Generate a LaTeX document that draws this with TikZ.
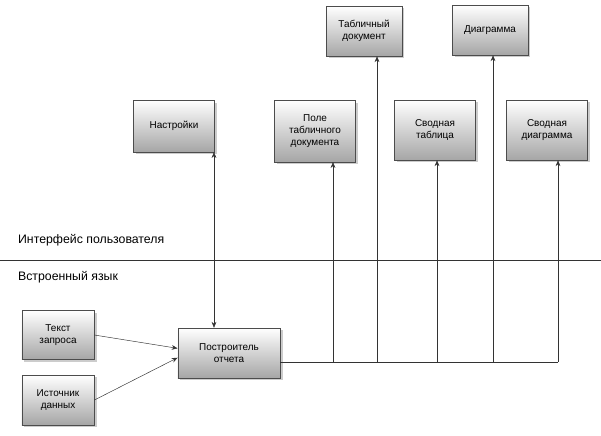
\documentclass[tikz,border=0pt]{standalone}
\usepackage{fontspec}
\setmainfont{Liberation Sans}
\usetikzlibrary{shadows,arrows.meta}
\begin{document}
\begin{tikzpicture}[x=0.03cm,y=-0.03cm,
    blok/.style={draw=black!70, top color=white, bottom color=black!35,
      drop shadow={shadow xshift=2pt,shadow yshift=-2pt,fill=black!40},
      align=center, font=\fontsize{8.5}{10}\selectfont, inner sep=1pt},
    conn/.style={-{Stealth[length=5pt,width=4pt]}, black!80}]
    \useasboundingbox (0,0) rectangle (601,435);
    % Boxes
    \node[blok, minimum width=82\pgflinewidth, text width=2.2cm, minimum height=1.5cm] (tabdoc) at (364,31) {Табличный\\документ};
    \node[blok, text width=2.2cm, minimum height=1.5cm] (diag) at (490,30) {Диаграмма\\[8pt]};
    \node[blok, text width=2.35cm, minimum height=1.55cm] (nastr) at (174,126) {Настройки\\[8pt]};
    \node[blok, text width=2.35cm, minimum height=1.85cm] (pole) at (315,131) {Поле\\табличного\\документа};
    \node[blok, text width=2.35cm, minimum height=1.8cm] (svtab) at (435,130) {Сводная\\таблица\\[6pt]};
    \node[blok, text width=2.35cm, minimum height=1.8cm] (svdiag) at (547,130) {Сводная\\диаграмма\\[6pt]};
    \node[blok, text width=2.1cm, minimum height=1.47cm] (tekst) at (58,335) {Текст\\запроса};
    \node[blok, text width=2.1cm, minimum height=1.5cm] (ist) at (58,400) {Источник\\данных};
    \node[blok, text width=3.0cm, minimum height=1.5cm] (postr) at (229,353) {Построитель\\отчета};
    % Interface line
    \draw[black!80] (0,260) -- (601,260);
    \node[anchor=west, font=\fontsize{10.5}{12}\selectfont] (ui) at (14,240) {Интерфейс пользователя};
    \node[anchor=west, font=\fontsize{10.5}{12}\selectfont] (lang) at (14,277) {Встроенный язык};
    % Connectors
    \coordinate (bus) at (558,362);
    \draw[black!80] (postr.east |- bus) -- (bus);
    \draw[conn] (333,362) -- (pole.south -| 333,0);
    \draw[conn] (377,362) -- (tabdoc.south -| 377,0);
    \draw[conn] (437,362) -- (svtab.south -| 437,0);
    \draw[conn] (493,362) -- (diag.south -| 493,0);
    \draw[conn] (bus) -- (svdiag.south -| bus);
    \draw[conn, {Stealth[length=5pt,width=4pt]}-{Stealth[length=5pt,width=4pt]}] (nastr.south -| 214,0) -- (postr.north -| 214,0);
    \draw[conn] (tekst.east) -- ([yshift=4pt]postr.west);
    \draw[conn] (ist.east) -- ([yshift=-4pt]postr.west);
\end{tikzpicture}
\end{document}
